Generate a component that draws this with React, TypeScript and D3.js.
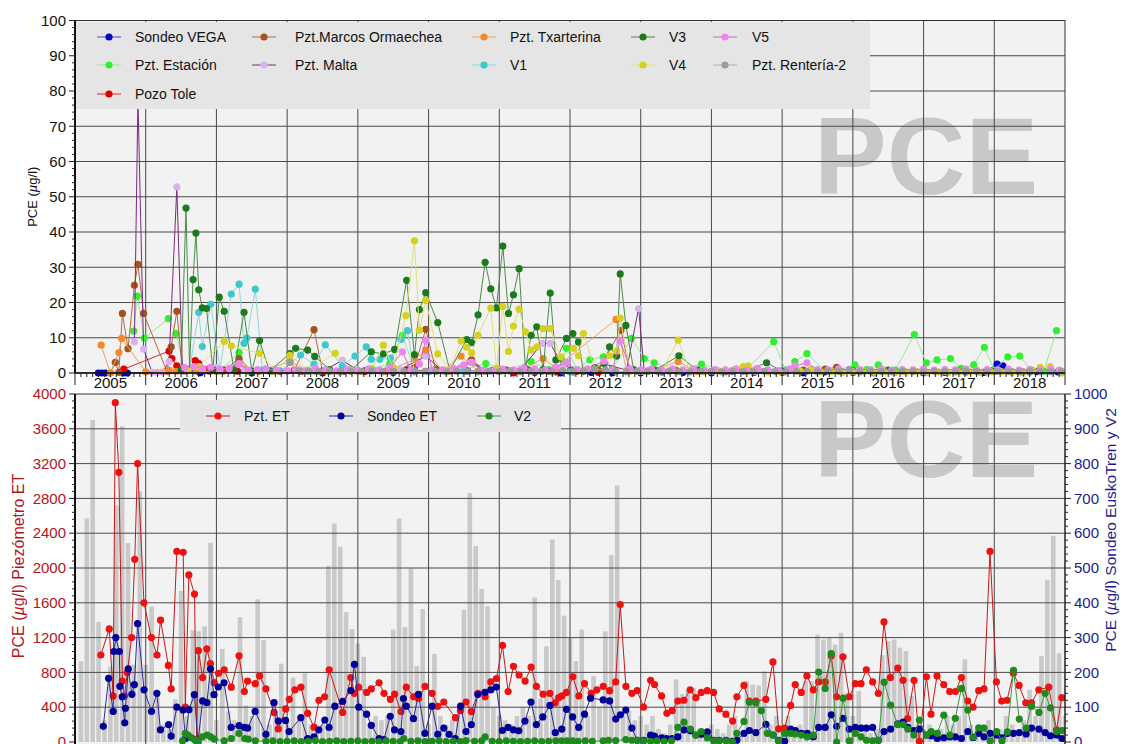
import { useRef, useEffect } from "react";
import * as d3 from "d3";

type Pt = [number, number]; // [decimal year, value]

// ---------- top panel: PCE (µg/l) ----------
const sondeoVega: Pt[] = [
  [2005.33, 0], [2005.38, 0], [2005.43, 0], [2005.69, 0], [2005.74, 0], [2006.77, 0.1], [2007.5, 0.1],
  [2008.5, 0.1], [2009.5, 0.2], [2010.55, 0.6], [2010.72, 0.6], [2010.9, 0.7], [2011.06, 0.7], [2011.2, 0.3],
  [2011.5, 0.2], [2011.87, 0], [2012.05, 0.3], [2012.3, 0.2], [2012.6, 0.1], [2013.0, 0.1], [2013.3, 0.3],
  [2013.6, 0.2], [2014.0, 0.1], [2014.3, 0.4], [2014.6, 0.2], [2015.0, 0.2], [2015.3, 0.1], [2015.6, 0.3],
  [2016.0, 0.2], [2016.3, 0.1], [2016.6, 0.3], [2017.0, 0.1], [2017.3, 0.2], [2017.6, 0.3], [2017.85, 0.2],
  [2018.04, 2.5], [2018.12, 2.0], [2018.4, 0.3], [2018.6, 0.4], [2018.79, 0.6], [2018.9, 0.3],
];
const pztEstacion: Pt[] = [
  [2005.83, 11.9], [2005.88, 21.8], [2005.98, 9.9], [2006.32, 15.4], [2006.43, 11.2], [2006.55, 0.5],
  [2006.8, 0.8], [2007.05, 0.6], [2007.32, 5.8], [2007.45, 0.5], [2007.7, 0.8], [2008.0, 0.6], [2008.4, 0.5],
  [2008.8, 0.8], [2009.2, 1.2], [2009.45, 2.5], [2009.63, 10.7], [2009.8, 1.0], [2010.1, 0.5], [2010.45, 0.8],
  [2010.81, 2.7], [2011.1, 0.8], [2011.45, 3.2], [2011.7, 1.0], [2011.88, 4.0], [2011.95, 7.0], [2012.1, 1.0],
  [2012.28, 3.7], [2012.47, 4.6], [2012.6, 1.2], [2012.87, 9.8], [2013.05, 4.1], [2013.19, 2.9], [2013.5, 0.8],
  [2013.86, 2.5], [2014.2, 0.5], [2014.5, 1.0], [2014.88, 8.9], [2015.05, 0.8], [2015.18, 3.2], [2015.35, 5.5],
  [2015.6, 0.8], [2015.8, 1.0], [2016.03, 2.3], [2016.2, 1.0], [2016.36, 2.3], [2016.6, 0.8], [2016.87, 10.9],
  [2017.04, 2.9], [2017.19, 3.7], [2017.38, 4.1], [2017.53, 1.3], [2017.71, 2.3], [2017.86, 7.3], [2018.0, 0.8],
  [2018.19, 4.6], [2018.36, 4.8], [2018.53, 0.8], [2018.7, 0.5], [2018.88, 12.0],
];
const pozoTole: Pt[] = [
  [2005.69, 1.1], [2006.33, 6.2], [2006.37, 4.1], [2006.44, 2.0], [2006.6, 0.8], [2006.7, 3.5], [2006.75, 2.7],
  [2006.9, 1.2], [2007.1, 0.8], [2007.3, 0.5], [2007.6, 0.6], [2007.9, 0.4], [2008.2, 0.5], [2008.5, 0.3],
  [2008.8, 0.6], [2009.1, 0.4], [2009.4, 0.5], [2009.7, 0.8], [2010.0, 0.5], [2010.3, 0.6], [2010.6, 3.5],
  [2010.8, 0.6], [2011.0, 0.4], [2011.2, 0], [2011.5, 0.5], [2011.8, 0.3], [2012.1, 0.5], [2012.4, 0.2],
];
const pztMarcos: Pt[] = [
  [2005.5, 0], [2005.57, 3.0], [2005.62, 0.2], [2005.67, 16.9], [2005.75, 6.9], [2005.84, 24.9], [2005.89, 30.8],
  [2005.97, 16.9], [2006.3, 0.5], [2006.36, 7.4], [2006.44, 17.5], [2006.52, 0.5], [2006.7, 0.8], [2006.9, 0.5],
  [2007.1, 0.6], [2007.32, 4.1], [2007.5, 0.5], [2007.8, 0.6], [2008.1, 0.8], [2008.38, 12.3], [2008.5, 0.6],
  [2008.8, 0.5], [2009.1, 0.7], [2009.5, 0.8], [2009.8, 1.5], [2009.96, 12.4], [2010.1, 1.0], [2010.4, 0.8],
  [2010.61, 3.7], [2010.8, 0.6], [2011.1, 0.8], [2011.4, 1.0], [2011.7, 0.5], [2012.0, 0.6], [2012.4, 0.8],
  [2012.72, 12.1], [2012.85, 0.8], [2013.1, 0.5], [2013.5, 0.6], [2014.0, 0.4], [2014.5, 0.6], [2015.0, 0.5],
  [2015.3, 0.8], [2015.61, 1.1], [2015.77, 1.6], [2016.0, 0.5],
];
const pztMalta: Pt[] = [
  [2005.84, 8.9], [2005.89, 78], [2005.97, 6.8], [2006.09, 0.2], [2006.16, 0.2], [2006.24, 0.3], [2006.33, 3.2],
  [2006.44, 52.8], [2006.52, 0.5], [2006.62, 1.2], [2006.8, 0.8], [2007.0, 1.5], [2007.2, 0.7], [2007.4, 1.0],
  [2007.6, 0.6], [2007.8, 0.9], [2008.0, 0.7], [2008.3, 0.8], [2008.55, 1.0], [2008.78, 3.6], [2009.0, 0.8],
  [2009.3, 0.6], [2009.6, 1.0], [2009.96, 4.8], [2010.2, 0.6], [2010.45, 1.5], [2010.6, 3.0], [2010.8, 0.6],
  [2011.0, 0.8], [2011.3, 1.0], [2011.61, 8.4], [2011.72, 8.4], [2011.9, 2.0], [2012.2, 0.8], [2012.5, 2.5],
  [2012.8, 0.8], [2012.97, 18.3], [2013.05, 0.5],
];
const pztTxarterina: Pt[] = [
  [2005.37, 7.9], [2005.5, 0], [2005.62, 5.8], [2005.66, 9.8], [2006.0, 0.3], [2006.33, 0.8], [2006.43, 0.5],
  [2006.7, 0.6], [2007.0, 0.4], [2007.32, 2.5], [2007.6, 0.5], [2008.04, 3.2], [2008.3, 0.6], [2008.6, 0.4],
  [2009.0, 0.5], [2009.4, 0.6], [2009.8, 3.7], [2009.96, 6.5], [2010.2, 0.8], [2010.46, 4.8], [2010.7, 0.5],
  [2011.0, 1.0], [2011.3, 0.6], [2011.62, 4.1], [2011.8, 1.5], [2012.65, 15.2], [2012.8, 0.5], [2013.1, 0.6],
  [2013.53, 3.2], [2013.8, 0.4], [2014.2, 0.3], [2014.6, 0.5], [2015.0, 0.3], [2015.5, 0.4], [2016.0, 0.3],
];
const v1: Pt[] = [
  [2006.62, 1.0], [2006.75, 17.2], [2006.8, 7.5], [2006.92, 19.5], [2007.05, 1.0], [2007.21, 22.4], [2007.32, 25.2],
  [2007.39, 8.4], [2007.43, 9.9], [2007.55, 23.8], [2007.65, 0.8], [2007.9, 0.6], [2008.19, 5.1], [2008.38, 2.5],
  [2008.54, 8.0], [2008.78, 2.0], [2008.96, 4.8], [2009.12, 7.4], [2009.19, 3.9], [2009.31, 3.9], [2009.46, 4.2],
  [2009.61, 9.5], [2009.7, 12.0], [2009.8, 0.5], [2010.0, 0.3], [2010.5, 0.5], [2011.0, 0.4], [2011.5, 0.6],
  [2012.0, 0.3],
];
const v3: Pt[] = [
  [2006.5, 0.8], [2006.57, 46.8], [2006.62, 1.0], [2006.67, 26.5], [2006.71, 39.7], [2006.75, 23.6], [2006.8, 18.5],
  [2006.86, 18.3], [2006.95, 1.0], [2007.04, 21.5], [2007.11, 17.5], [2007.25, 0.8], [2007.39, 17.2], [2007.5, 0.5],
  [2007.61, 9.2], [2007.75, 0.6], [2008.04, 5.5], [2008.12, 7.0], [2008.29, 6.5], [2008.39, 4.7], [2008.6, 1.0],
  [2008.9, 0.8], [2009.19, 6.0], [2009.36, 5.4], [2009.52, 6.7], [2009.69, 26.3], [2009.8, 5.2], [2009.87, 18.0],
  [2009.96, 22.8], [2010.13, 14.3], [2010.3, 0.8], [2010.54, 9.5], [2010.61, 8.6], [2010.7, 16.5], [2010.8, 31.4],
  [2010.88, 23.9], [2010.96, 18.5], [2011.05, 36.0], [2011.13, 16.9], [2011.2, 22.2], [2011.28, 29.6],
  [2011.37, 1.3], [2011.45, 10.7], [2011.53, 13.1], [2011.62, 1.0], [2011.72, 22.7], [2011.8, 3.7], [2011.95, 9.8],
  [2012.04, 11.2], [2012.12, 8.8], [2012.19, 0.4], [2012.35, 1.5], [2012.48, 2.7], [2012.56, 7.4], [2012.66, 4.8],
  [2012.71, 28.1], [2012.79, 13.5], [2012.9, 1.0], [2013.2, 0.8], [2013.54, 4.9], [2013.8, 0.8], [2014.2, 0.6],
  [2014.5, 0.8], [2014.78, 2.9], [2015.0, 0.5], [2015.5, 0.4], [2016.0, 0.6], [2016.5, 0.8], [2017.0, 0.3],
  [2017.5, 0.5], [2018.0, 0.4], [2018.5, 0.3],
];
const v4: Pt[] = [
  [2006.6, 0.8], [2006.75, 1.8], [2007.11, 9.0], [2007.21, 7.7], [2007.61, 5.6], [2007.85, 0.5], [2008.04, 5.0],
  [2008.3, 0.8], [2008.68, 5.6], [2008.9, 0.8], [2009.2, 1.0], [2009.36, 7.9], [2009.5, 1.5], [2009.68, 16.3],
  [2009.8, 37.5], [2009.87, 12.1], [2009.96, 20.6], [2010.13, 5.4], [2010.3, 1.0], [2010.46, 9.1], [2010.54, 7.3],
  [2010.61, 5.7], [2010.7, 10.7], [2010.88, 18.4], [2010.96, 1.3], [2011.05, 18.9], [2011.13, 6.1], [2011.2, 13.3],
  [2011.28, 18.1], [2011.37, 11.7], [2011.45, 6.5], [2011.53, 7.4], [2011.62, 12.6], [2011.72, 12.6],
  [2011.87, 4.6], [2012.05, 7.0], [2012.12, 4.9], [2012.19, 11.2], [2012.35, 1.0], [2012.56, 4.9], [2012.66, 6.2],
  [2012.71, 15.6], [2012.85, 0.5], [2013.0, 0.4], [2013.3, 0.6], [2013.53, 9.3], [2013.7, 0.5], [2013.9, 0.3],
  [2014.1, 0.6], [2014.3, 0.8], [2014.45, 1.8], [2014.52, 2.0], [2014.62, 1.0], [2014.8, 0.3], [2014.95, 0.5],
  [2015.1, 0.8], [2015.25, 0.6], [2015.4, 1.0], [2015.55, 0.3], [2015.7, 0.5], [2015.85, 0.2], [2016.0, 0.4],
  [2016.15, 0.3], [2016.3, 0.2], [2016.45, 0.3], [2016.6, 0.2], [2016.75, 0.3], [2016.9, 0.4], [2017.05, 0.2],
  [2017.2, 0.3], [2017.35, 0.2], [2017.5, 0.4], [2017.65, 0.3], [2017.8, 0.2], [2017.95, 0.3], [2018.1, 0.4],
  [2018.25, 0.2], [2018.4, 0.3], [2018.55, 0.6], [2018.65, 1.6], [2018.79, 1.8], [2018.95, 0],
];
const v5: Pt[] = [
  [2006.55, 1.5], [2006.68, 1.8], [2006.8, 1.2], [2006.92, 1.6], [2007.05, 1.0], [2007.18, 1.3], [2007.32, 2.7],
  [2007.45, 0.8], [2007.58, 1.0], [2007.7, 1.2], [2007.85, 0.8], [2008.0, 0.5], [2008.12, 1.0], [2008.25, 0.6],
  [2008.4, 1.3], [2008.55, 0.8], [2008.7, 0.6], [2008.85, 1.0], [2009.0, 0.7], [2009.15, 1.2], [2009.3, 0.9],
  [2009.45, 1.5], [2009.63, 6.0], [2009.75, 0.8], [2009.87, 2.5], [2009.96, 9.3], [2010.05, 0.8], [2010.2, 0.9],
  [2010.35, 1.3], [2010.5, 2.3], [2010.62, 3.0], [2010.75, 0.8], [2010.9, 0.6], [2011.05, 1.1], [2011.2, 0.9],
  [2011.35, 1.4], [2011.5, 1.2], [2011.65, 0.8], [2011.8, 1.7], [2011.95, 3.0], [2012.1, 1.0], [2012.25, 1.2],
  [2012.48, 3.4], [2012.6, 0.9], [2012.71, 9.1], [2012.85, 1.2], [2013.0, 0.9], [2013.15, 1.1], [2013.3, 0.8],
  [2013.45, 1.2], [2013.6, 0.9], [2013.75, 1.1], [2013.9, 0.8], [2014.05, 1.0], [2014.2, 0.9], [2014.35, 1.2],
  [2014.5, 0.8], [2014.65, 1.3], [2014.8, 0.9], [2014.95, 0.7], [2015.1, 1.1], [2015.18, 2.0], [2015.35, 2.9],
  [2015.5, 1.0], [2015.65, 0.9], [2015.8, 1.2], [2015.95, 0.8], [2016.1, 1.0], [2016.25, 0.9], [2016.4, 1.1],
  [2016.55, 0.8], [2016.7, 1.0], [2016.85, 0.9], [2017.0, 1.1], [2017.15, 0.8], [2017.3, 1.0], [2017.45, 0.9],
  [2017.6, 1.1], [2017.75, 0.8], [2017.9, 1.0], [2018.05, 0.9], [2018.2, 1.1], [2018.35, 0.8], [2018.5, 1.0],
  [2018.65, 0.9], [2018.8, 1.1], [2018.92, 0.8],
];
const pztRenteria2: Pt[] = [
  [2008.04, 3.0], [2008.17, 0.6], [2008.3, 0.5], [2008.45, 0.4], [2008.6, 0.6], [2008.75, 0.3], [2008.9, 0.5],
  [2009.05, 0.4], [2009.2, 0.6], [2009.35, 0.3], [2009.5, 0.5], [2009.65, 0.4], [2009.8, 0.3], [2009.95, 0.5],
  [2010.1, 0.4], [2010.25, 0.3], [2010.4, 0.5], [2010.55, 0.4], [2010.7, 0.3], [2010.85, 0.5], [2011.0, 0.4],
  [2011.15, 0.6], [2011.3, 0.3], [2011.45, 0.5], [2011.6, 0.4], [2011.75, 0.3], [2011.9, 0.6], [2012.05, 0.4],
  [2012.2, 0.5], [2012.35, 1.0], [2012.5, 0.8], [2012.65, 0.4], [2012.8, 0.3], [2012.95, 0.5], [2013.1, 0.4],
  [2013.25, 0.3], [2013.4, 0.5], [2013.55, 0.4], [2013.7, 0.3], [2013.85, 0.5], [2014.0, 0.4], [2014.15, 0.3],
  [2014.3, 0.5], [2014.45, 0.4], [2014.6, 0.3], [2014.75, 0.5], [2014.9, 0.4], [2015.05, 0.3], [2015.2, 0.5],
  [2015.35, 0.4], [2015.5, 0.3], [2015.65, 0.5], [2015.8, 0.4], [2015.95, 1.0], [2016.1, 0.3], [2016.25, 0.5],
  [2016.4, 0.4], [2016.55, 0.3], [2016.7, 0.5], [2016.85, 0.4], [2017.0, 0.3], [2017.15, 0.5], [2017.3, 0.4],
  [2017.45, 0.3], [2017.6, 0.5], [2017.75, 0.4], [2017.9, 0.3], [2018.05, 0.5], [2018.2, 0.4], [2018.35, 0.3],
  [2018.5, 0.5], [2018.65, 0.4], [2018.8, 0.3], [2018.95, 0.5],
];

// ---------- bottom panel ----------
// Pzt. ET, left axis (µg/l)
const pztET: Pt[] = [
  [2005.365, 1000], [2005.485, 1300], [2005.54, 530], [2005.57, 3900], [2005.62, 3100], [2005.67, 700],
  [2005.7, 530], [2005.74, 800], [2005.8, 1200], [2005.845, 2100], [2005.885, 3200], [2005.975, 1600],
  [2006.08, 1200], [2006.16, 1000], [2006.21, 1400], [2006.32, 880], [2006.36, 610], [2006.44, 2190],
  [2006.53, 2180], [2006.56, 400], [2006.61, 1920], [2006.69, 1700], [2006.72, 30], [2006.745, 1050],
  [2006.805, 740], [2006.865, 1070], [2006.915, 900], [2006.97, 680], [2007.03, 790], [2007.11, 830],
  [2007.21, 630], [2007.32, 990], [2007.395, 580], [2007.44, 700], [2007.55, 670], [2007.61, 760], [2007.7, 610],
  [2007.815, 340], [2007.875, 150], [2007.98, 380], [2008.03, 490], [2008.11, 600], [2008.195, 630],
  [2008.29, 330], [2008.38, 170], [2008.45, 480], [2008.53, 520], [2008.595, 830], [2008.785, 340],
  [2008.9, 740], [2008.95, 560], [2009.01, 630], [2009.125, 570], [2009.19, 610], [2009.3, 680], [2009.37, 560],
  [2009.46, 490], [2009.52, 550], [2009.61, 350], [2009.685, 630], [2009.79, 520], [2009.86, 500], [2009.95, 640],
  [2010.05, 560], [2010.13, 410], [2010.215, 460], [2010.38, 280], [2010.45, 360], [2010.53, 460],
  [2010.605, 350], [2010.7, 560], [2010.8, 520], [2010.88, 690], [2010.96, 730], [2011.045, 1110],
  [2011.125, 580], [2011.2, 870], [2011.28, 770], [2011.365, 700], [2011.45, 860], [2011.525, 640],
  [2011.62, 550], [2011.715, 560], [2011.79, 450], [2011.84, 510], [2011.885, 530], [2011.95, 570],
  [2012.04, 750], [2012.125, 530], [2012.205, 670], [2012.3, 560], [2012.38, 600], [2012.47, 640], [2012.56, 590],
  [2012.645, 690], [2012.71, 1580], [2012.79, 640], [2012.875, 560], [2012.95, 590], [2013.04, 400],
  [2013.14, 710], [2013.195, 660], [2013.295, 530], [2013.37, 330], [2013.445, 360], [2013.525, 470],
  [2013.61, 480], [2013.7, 600], [2013.78, 510], [2013.855, 570], [2013.94, 590], [2014.03, 570], [2014.11, 380],
  [2014.205, 320], [2014.3, 240], [2014.36, 520], [2014.46, 650], [2014.535, 470], [2014.63, 470],
  [2014.77, 490], [2014.87, 920], [2014.95, 150], [2015.035, 160], [2015.12, 420], [2015.185, 660],
  [2015.27, 570], [2015.35, 760], [2015.44, 600], [2015.515, 690], [2015.61, 690], [2015.695, 990],
  [2015.77, 520], [2015.86, 980], [2015.95, 520], [2016.035, 670], [2016.115, 670], [2016.19, 830],
  [2016.28, 690], [2016.36, 560], [2016.44, 1380], [2016.53, 740], [2016.635, 850], [2016.71, 710],
  [2016.775, 270], [2016.865, 710], [2016.94, 10], [2017.04, 750], [2017.105, 320], [2017.19, 760],
  [2017.285, 660], [2017.37, 580], [2017.45, 580], [2017.535, 740], [2017.625, 470], [2017.7, 400],
  [2017.78, 590], [2017.855, 610], [2017.94, 2190], [2018.03, 690], [2018.105, 470], [2018.18, 480],
  [2018.27, 790], [2018.35, 650], [2018.445, 450], [2018.525, 450], [2018.63, 600], [2018.77, 630],
  [2018.88, 140], [2018.955, 510],
];
// Sondeo ET, right axis (µg/l)
const sondeoET: Pt[] = [
  [2005.4, 45], [2005.475, 183], [2005.54, 88], [2005.55, 260], [2005.577, 300], [2005.627, 260], [2005.635, 160],
  [2005.667, 130], [2005.703, 55], [2005.713, 97], [2005.753, 210], [2005.804, 137], [2005.84, 165],
  [2005.885, 340], [2005.976, 150], [2006.082, 88], [2006.158, 140], [2006.208, 35], [2006.324, 50],
  [2006.36, 17], [2006.44, 100], [2006.527, 92], [2006.562, 10], [2006.612, 93], [2006.688, 136], [2006.739, 0],
  [2006.805, 118], [2006.865, 113], [2006.916, 210], [2006.966, 136], [2007.027, 158], [2007.108, 170],
  [2007.209, 42], [2007.32, 47], [2007.396, 42], [2007.441, 40], [2007.547, 88], [2007.699, 22], [2007.815, 113],
  [2007.876, 60], [2007.977, 62], [2008.027, 30], [2008.194, 70], [2008.29, 10], [2008.381, 15], [2008.447, 35],
  [2008.533, 63], [2008.593, 42], [2008.674, 103], [2008.785, 117], [2008.902, 148], [2008.952, 223],
  [2009.013, 100], [2009.124, 80], [2009.19, 48], [2009.301, 10], [2009.367, 7], [2009.458, 74], [2009.518, 35],
  [2009.609, 30], [2009.645, 125], [2009.685, 103], [2009.786, 67], [2009.857, 137], [2009.948, 25],
  [2010.049, 103], [2010.13, 22], [2010.215, 40], [2010.291, 22], [2010.377, 10], [2010.453, 103], [2010.529, 30],
  [2010.605, 50], [2010.696, 137], [2010.797, 143], [2010.882, 150], [2010.958, 158], [2011.044, 33],
  [2011.125, 42], [2011.2, 35], [2011.276, 32], [2011.363, 60], [2011.448, 115], [2011.524, 50], [2011.615, 72],
  [2011.716, 105], [2011.792, 27], [2011.884, 37], [2011.95, 94], [2012.037, 72], [2012.123, 42], [2012.205, 80],
  [2012.291, 126], [2012.469, 121], [2012.56, 118], [2012.647, 66], [2012.713, 78], [2012.789, 92],
  [2012.875, 40], [2012.951, 5], [2013.043, 5], [2013.14, 20], [2013.195, 17], [2013.297, 12], [2013.368, 10],
  [2013.444, 10], [2013.526, 15], [2013.612, 35], [2013.703, 32], [2013.78, 20], [2013.856, 22], [2013.942, 29],
  [2014.034, 5], [2014.11, 5], [2014.207, 5], [2014.298, 2], [2014.359, 5], [2014.461, 25], [2014.537, 33],
  [2014.628, 27], [2014.771, 51], [2014.872, 20], [2014.948, 5], [2015.035, 2], [2015.121, 37], [2015.187, 33],
  [2015.274, 25], [2015.355, 25], [2015.441, 15], [2015.517, 42], [2015.609, 42], [2015.695, 78], [2015.771, 45],
  [2015.863, 68], [2015.949, 37], [2016.036, 42], [2016.117, 40], [2016.193, 40], [2016.28, 42], [2016.361, 5],
  [2016.442, 30], [2016.534, 37], [2016.635, 52], [2016.712, 57], [2016.778, 42], [2016.864, 33], [2016.94, 37],
  [2017.042, 20], [2017.108, 18], [2017.194, 10], [2017.286, 12], [2017.372, 15], [2017.448, 15], [2017.535, 10],
  [2017.626, 30], [2017.702, 13], [2017.779, 25], [2017.855, 15], [2017.941, 25], [2018.033, 20], [2018.109, 12],
  [2018.185, 25], [2018.272, 25], [2018.353, 27], [2018.45, 23], [2018.526, 40], [2018.632, 37], [2018.719, 27],
  [2018.795, 18], [2018.881, 20], [2018.958, 10],
];
// V2, right axis (µg/l)
const v2: Pt[] = [
  [2006.52, 3], [2006.56, 25], [2006.6, 20], [2006.65, 12], [2006.7, 5], [2006.74, 3], [2006.8, 15], [2006.87, 20],
  [2006.92, 15], [2006.97, 8], [2007.11, 3], [2007.21, 10], [2007.32, 25], [2007.4, 10], [2007.45, 8], [2007.55, 3],
  [2007.7, 2], [2007.8, 3], [2007.9, 1], [2008.0, 2], [2008.1, 3], [2008.2, 1], [2008.3, 2], [2008.4, 4], [2008.5, 1],
  [2008.6, 2], [2008.7, 3], [2008.8, 1], [2008.9, 2], [2009.0, 3], [2009.1, 1], [2009.2, 2], [2009.3, 1], [2009.4, 3],
  [2009.5, 2], [2009.6, 1], [2009.65, 10], [2009.75, 2], [2009.85, 3], [2009.95, 1], [2010.05, 2], [2010.15, 3],
  [2010.25, 1], [2010.35, 2], [2010.45, 1], [2010.53, 4], [2010.65, 2], [2010.75, 3], [2010.8, 15], [2010.9, 2],
  [2011.0, 1], [2011.1, 3], [2011.2, 2], [2011.3, 1], [2011.4, 2], [2011.5, 3], [2011.6, 1], [2011.7, 2], [2011.8, 3],
  [2011.884, 3], [2011.96, 3], [2012.037, 3], [2012.113, 2], [2012.215, 3], [2012.316, 2], [2012.469, 3],
  [2012.545, 5], [2012.647, 4], [2012.789, 7], [2012.875, 5], [2012.951, 5], [2013.043, 3], [2013.14, 2],
  [2013.23, 3], [2013.33, 2], [2013.434, 3], [2013.526, 42], [2013.612, 57], [2013.703, 37], [2013.78, 20],
  [2013.856, 30], [2013.942, 12], [2014.034, 3], [2014.11, 3], [2014.207, 3], [2014.298, 0], [2014.359, 25],
  [2014.461, 59], [2014.537, 114], [2014.628, 112], [2014.705, 90], [2014.791, 25], [2014.872, 20], [2014.948, 3],
  [2015.035, 25], [2015.121, 25], [2015.187, 23], [2015.274, 20], [2015.355, 15], [2015.441, 20], [2015.517, 201],
  [2015.609, 154], [2015.695, 254], [2015.771, 0], [2015.863, 126], [2015.949, 3], [2016.036, 25], [2016.117, 15],
  [2016.193, 5], [2016.28, 3], [2016.361, 5], [2016.442, 172], [2016.534, 106], [2016.635, 50], [2016.712, 50],
  [2016.778, 37], [2016.864, 20], [2016.94, 63], [2017.042, 20], [2017.108, 30], [2017.194, 25], [2017.286, 77],
  [2017.372, 20], [2017.448, 68], [2017.535, 154], [2017.626, 92], [2017.702, 15], [2017.779, 41], [2017.855, 40],
  [2017.941, 3], [2018.033, 30], [2018.109, 3], [2018.185, 29], [2018.272, 206], [2018.353, 66], [2018.45, 40],
  [2018.526, 103], [2018.632, 85], [2018.719, 140], [2018.795, 98], [2018.881, 30], [2018.958, 33],
];
// monthly grey bars, Jan 2005 .. Dec 2018 (left-axis units)
const monthlyBars: number[] = [
  929, 2570, 3700, 1380, 250, 866, 2720, 3630, 2285, 888, 2880, 888,
  1558, 585, 200, 150, 491, 1737, 300, 1284, 1272, 1330, 2290, 250,
  1070, 350, 250, 1435, 420, 300, 1640, 1170, 200, 350, 900, 250,
  740, 300, 790, 200, 150, 200, 2026, 2510, 2244, 1493, 1299, 1131,
  979, 200, 300, 250, 300, 1292, 2568, 1322, 1996, 872, 1528, 200,
  1014, 300, 200, 250, 300, 1520, 2861, 2252, 1760, 1560, 400, 300,
  250, 200, 300, 400, 300, 1660, 500, 1100, 2328, 1863, 1452, 1197,
  929, 1292, 300, 758, 400, 1272, 2149, 2949, 339, 358, 250, 300,
  200, 300, 150, 100, 200, 720, 550, 600, 620, 150, 100, 200,
  150, 100, 200, 300, 100, 700, 658, 650, 810, 200, 300, 150,
  300, 150, 200, 700, 700, 1235, 1178, 1197, 1120, 1254, 567, 300,
  585, 200, 100, 150, 998, 1158, 1178, 1084, 1045, 530, 200, 150,
  200, 100, 150, 300, 200, 300, 950, 200, 150, 200, 250, 100,
  150, 300, 200, 100, 250, 600, 300, 987, 1863, 2370, 1020, 300,
];

const years = d3.range(2005, 2019);
const topTicks = d3.range(0, 101, 10);
const leftTicks = d3.range(0, 4001, 400);
const rightTicks = d3.range(0, 1001, 100);

interface Series { name: string; data: Pt[]; marker: string; line: string; }

const topSeries: Series[] = [
  { name: "Sondeo VEGA", data: sondeoVega, marker: "#0000cc", line: "#4a4ad0" },
  { name: "Pzt. Estación", data: pztEstacion, marker: "#2ef02e", line: "#9ae89a" },
  { name: "Pozo Tole", data: pozoTole, marker: "#e00000", line: "#d03030" },
  { name: "Pzt.Marcos Ormaechea", data: pztMarcos, marker: "#a4531b", line: "#b06a3a" },
  { name: "Pzt. Malta", data: pztMalta, marker: "#d8b2f0", line: "#7a2a7e" },
  { name: "Pzt. Txarterina", data: pztTxarterina, marker: "#f2892a", line: "#f0a060" },
  { name: "V1", data: v1, marker: "#3cc8cc", line: "#8ad8dc" },
  { name: "V3", data: v3, marker: "#1b7a1b", line: "#4a8a4a" },
  { name: "V4", data: v4, marker: "#d6d01e", line: "#e2de78" },
  { name: "V5", data: v5, marker: "#ee84ee", line: "#cc66cc" },
  { name: "Pzt. Rentería-2", data: pztRenteria2, marker: "#9c9c9c", line: "#b0b0b0" },
];
const topLegendCols: string[][] = [
  ["Sondeo VEGA", "Pzt. Estación", "Pozo Tole"],
  ["Pzt.Marcos Ormaechea", "Pzt. Malta"],
  ["Pzt. Txarterina", "V1"],
  ["V3", "V4"],
  ["V5", "Pzt. Rentería-2"],
];

const bottomSeries = [
  { name: "Pzt. ET", data: pztET, marker: "#ee1111", line: "#c81818", axis: "left" },
  { name: "Sondeo ET", data: sondeoET, marker: "#000099", line: "#2a2a9a", axis: "right" },
  { name: "V2", data: v2, marker: "#1e8a1e", line: "#3f9a3f", axis: "right" },
];

const FONT = "'Liberation Sans', Arial, Helvetica, sans-serif";
const RED_AXIS = "#b3151b";
const BLUE_AXIS = "#1c1c8c";

export default function App() {
  const svgRef = useRef<SVGSVGElement>(null);
  const width = 1123;
  const height = 744;

  useEffect(() => {
    if (!svgRef.current) return;
    const svg = d3.select(svgRef.current);
    svg.selectAll("*").remove();

    const xL = 75, xR = 1065;
    const tTop = 20.5, tBot = 373;
    const bTop = 394, bBot = 742;

    const x = d3.scaleLinear().domain([2005, 2019]).range([xL, xR]);
    const yTop = d3.scaleLinear().domain([0, 100]).range([tBot, tTop]);
    const yLeft = d3.scaleLinear().domain([0, 4000]).range([bBot, bTop]);
    const yRight = d3.scaleLinear().domain([0, 1000]).range([bBot, bTop]);

    const defs = svg.append("defs");
    defs.append("clipPath").attr("id", "clip-top").append("rect")
      .attr("x", xL).attr("y", tTop).attr("width", xR - xL).attr("height", tBot - tTop + 4);
    defs.append("clipPath").attr("id", "clip-bot").append("rect")
      .attr("x", xL).attr("y", bTop).attr("width", xR - xL).attr("height", bBot - bTop + 4);

    const drawSeries = (
      g: d3.Selection<SVGGElement, unknown, null, undefined>,
      data: Pt[], y: d3.ScaleLinear<number, number>, marker: string, line: string,
    ) => {
      const sorted = [...data].sort((a, b) => a[0] - b[0]);
      g.append("path").datum(sorted)
        .attr("fill", "none").attr("stroke", line).attr("stroke-width", 1)
        .attr("d", d3.line<Pt>().x((d) => x(d[0])).y((d) => y(d[1])));
      g.selectAll(null).data(sorted).enter().append("circle")
        .attr("cx", (d) => x(d[0])).attr("cy", (d) => y(d[1])).attr("r", 3.6).attr("fill", marker);
    };

    // ================= TOP PANEL =================
    svg.append("rect").attr("x", xL).attr("y", tTop).attr("width", xR - xL).attr("height", tBot - tTop)
      .attr("fill", "#f2f2f2");
    // watermark, clipped to the plot so it stays inside the panel
    svg.append("g").attr("clip-path", "url(#clip-top)").append("text")
      .attr("x", 814).attr("y", 194).attr("font-family", FONT).attr("font-size", 109).attr("font-weight", 700)
      .attr("fill", "#c8c8c8").text("PCE");

    const gridT = svg.append("g").attr("stroke", "#4a4a4a").attr("stroke-width", 1);
    gridT.selectAll(null).data(topTicks.slice(1, -1)).enter().append("line")
      .attr("x1", xL).attr("x2", xR).attr("y1", (d) => yTop(d)).attr("y2", (d) => yTop(d));
    gridT.selectAll(null).data(years.slice(1)).enter().append("line")
      .attr("x1", (d) => x(d)).attr("x2", (d) => x(d)).attr("y1", tTop).attr("y2", tBot);

    const dataT = svg.append("g").attr("clip-path", "url(#clip-top)");
    topSeries.forEach((s) => drawSeries(dataT, s.data, yTop, s.marker, s.line));

    // legend
    svg.append("rect").attr("x", xL).attr("y", 22).attr("width", 870 - xL).attr("height", 87).attr("fill", "#e5e5e5");
    const colX = [109, 264, 484, 643, 725];
    const colTextX = [135, 295, 510, 669, 752];
    const rowY = [37, 65, 94];
    topLegendCols.forEach((col, ci) => {
      col.forEach((name, ri) => {
        const s = topSeries.find((t) => t.name === name)!;
        const lg = svg.append("g");
        lg.append("line").attr("x1", colX[ci] - 12).attr("x2", colX[ci] + 12).attr("y1", rowY[ri]).attr("y2", rowY[ri])
          .attr("stroke", s.line).attr("stroke-width", 1);
        lg.append("circle").attr("cx", colX[ci]).attr("cy", rowY[ri]).attr("r", 3.6).attr("fill", s.marker);
        lg.append("text").attr("x", colTextX[ci]).attr("y", rowY[ri]).attr("dy", "0.35em")
          .attr("font-family", FONT).attr("font-size", 14).attr("fill", "#111").text(name);
      });
    });

    // frame + axes
    svg.append("rect").attr("x", xL).attr("y", tTop).attr("width", xR - xL).attr("height", tBot - tTop)
      .attr("fill", "none").attr("stroke", "#333").attr("stroke-width", 1);
    svg.append("line").attr("x1", xL).attr("x2", xL).attr("y1", tTop).attr("y2", tBot)
      .attr("stroke", "#111").attr("stroke-width", 2);
    svg.append("line").attr("x1", xL).attr("x2", xR).attr("y1", tBot).attr("y2", tBot)
      .attr("stroke", "#111").attr("stroke-width", 1.5);

    const axT = svg.append("g").attr("stroke", "#222").attr("stroke-width", 1);
    axT.selectAll(null).data(d3.range(0, 101, 2)).enter().append("line")
      .attr("x1", (d) => xL - (d % 10 === 0 ? 6 : 3)).attr("x2", xL)
      .attr("y1", (d) => yTop(d)).attr("y2", (d) => yTop(d));
    axT.selectAll(null).data(d3.range(0, 14 * 12 + 1)).enter().append("line")
      .attr("x1", (d) => x(2005 + d / 12)).attr("x2", (d) => x(2005 + d / 12))
      .attr("y1", tBot).attr("y2", (d) => tBot + (d % 12 === 0 ? 12 : 4));

    svg.append("g").selectAll(null).data(topTicks).enter().append("text")
      .attr("x", xL - 9).attr("y", (d) => yTop(d)).attr("dy", "0.35em").attr("text-anchor", "end")
      .attr("font-family", FONT).attr("font-size", 15).attr("fill", "#111").text((d) => d);
    svg.append("g").selectAll(null).data(years).enter().append("text")
      .attr("x", (d) => x(d + 0.5)).attr("y", 388).attr("text-anchor", "middle")
      .attr("font-family", FONT).attr("font-size", 15).attr("fill", "#111").text((d) => d);

    const lblT = svg.append("text").attr("transform", `translate(37,${(tTop + tBot) / 2}) rotate(-90)`)
      .attr("text-anchor", "middle").attr("font-family", FONT).attr("font-size", 13).attr("fill", "#111");
    lblT.append("tspan").text("PCE (");
    lblT.append("tspan").attr("font-style", "italic").text("µ");
    lblT.append("tspan").text("g/l)");

    // ================= BOTTOM PANEL =================
    svg.append("rect").attr("x", xL).attr("y", bTop).attr("width", xR - xL).attr("height", bBot - bTop + 4)
      .attr("fill", "#f2f2f2");
    svg.append("g").attr("clip-path", "url(#clip-bot)").append("text")
      .attr("x", 814).attr("y", 477).attr("font-family", FONT).attr("font-size", 109).attr("font-weight", 700)
      .attr("fill", "#c8c8c8").text("PCE");

    const barsG = svg.append("g").attr("clip-path", "url(#clip-bot)");
    barsG.selectAll(null).data(monthlyBars).enter().append("rect")
      .attr("x", (_, i) => x(2005 + (i + 1) / 12) - 2.3)
      .attr("width", 4.6)
      .attr("y", (d) => yLeft(d))
      .attr("height", (d) => yLeft(0) - yLeft(d))
      .attr("fill", "#c9c9c9");

    const gridB = svg.append("g").attr("stroke", "#4a4a4a").attr("stroke-width", 1);
    gridB.selectAll(null).data(leftTicks.slice(1, -1)).enter().append("line")
      .attr("x1", xL).attr("x2", xR).attr("y1", (d) => yLeft(d)).attr("y2", (d) => yLeft(d));
    gridB.selectAll(null).data(years.slice(1)).enter().append("line")
      .attr("x1", (d) => x(d)).attr("x2", (d) => x(d)).attr("y1", bTop).attr("y2", bBot + 4);

    const dataB = svg.append("g").attr("clip-path", "url(#clip-bot)");
    bottomSeries.forEach((s) => drawSeries(dataB, s.data, s.axis === "left" ? yLeft : yRight, s.marker, s.line));

    // legend
    svg.append("rect").attr("x", 180).attr("y", 400).attr("width", 381).attr("height", 32).attr("fill", "#e5e5e5");
    const bColX = [218, 341, 489];
    const bTextX = [244, 367, 514];
    bottomSeries.forEach((s, i) => {
      const lg = svg.append("g");
      lg.append("line").attr("x1", bColX[i] - 12).attr("x2", bColX[i] + 12).attr("y1", 416).attr("y2", 416)
        .attr("stroke", s.line).attr("stroke-width", 1);
      lg.append("circle").attr("cx", bColX[i]).attr("cy", 416).attr("r", 3.6).attr("fill", s.marker);
      lg.append("text").attr("x", bTextX[i]).attr("y", 416).attr("dy", "0.35em")
        .attr("font-family", FONT).attr("font-size", 14).attr("fill", "#111").text(s.name);
    });

    // frame + axes
    svg.append("line").attr("x1", xL).attr("x2", xR).attr("y1", bTop).attr("y2", bTop).attr("stroke", "#333");
    svg.append("line").attr("x1", xL).attr("x2", xL).attr("y1", bTop).attr("y2", bBot + 4)
      .attr("stroke", "#111").attr("stroke-width", 2);
    svg.append("line").attr("x1", xR).attr("x2", xR).attr("y1", bTop).attr("y2", bBot + 4)
      .attr("stroke", "#222").attr("stroke-width", 1.5);

    const axB = svg.append("g").attr("stroke", "#222").attr("stroke-width", 1);
    axB.selectAll(null).data(d3.range(0, 4001, 80)).enter().append("line")
      .attr("x1", (d) => xL - (d % 400 === 0 ? 6 : 3)).attr("x2", xL)
      .attr("y1", (d) => yLeft(d)).attr("y2", (d) => yLeft(d));
    axB.selectAll(null).data(d3.range(0, 1001, 20)).enter().append("line")
      .attr("x1", xR).attr("x2", (d) => xR + (d % 100 === 0 ? 6 : 3))
      .attr("y1", (d) => yRight(d)).attr("y2", (d) => yRight(d));

    svg.append("g").selectAll(null).data(leftTicks).enter().append("text")
      .attr("x", xL - 9).attr("y", (d) => yLeft(d)).attr("dy", "0.35em").attr("text-anchor", "end")
      .attr("font-family", FONT).attr("font-size", 15).attr("fill", RED_AXIS).text((d) => d);
    svg.append("g").selectAll(null).data(rightTicks).enter().append("text")
      .attr("x", xR + 9).attr("y", (d) => yRight(d)).attr("dy", "0.35em").attr("text-anchor", "start")
      .attr("font-family", FONT).attr("font-size", 15).attr("fill", BLUE_AXIS).text((d) => d);

    const lblL = svg.append("text").attr("transform", `translate(24,566) rotate(-90)`)
      .attr("text-anchor", "middle").attr("font-family", FONT).attr("font-size", 16).attr("fill", RED_AXIS);
    lblL.append("tspan").text("PCE (");
    lblL.append("tspan").attr("font-style", "italic").text("µ");
    lblL.append("tspan").text("g/l) Piezómetro ET");

    const lblR = svg.append("text").attr("transform", `translate(1116,530) rotate(-90)`)
      .attr("text-anchor", "middle").attr("font-family", FONT).attr("font-size", 15.5).attr("fill", BLUE_AXIS);
    lblR.append("tspan").text("PCE (");
    lblR.append("tspan").attr("font-style", "italic").text("µ");
    lblR.append("tspan").text("g/l) Sondeo EuskoTren y V2");
  }, []);

  return (
    <div style={{ position: "absolute", left: 0, top: 0, width, height, overflow: "hidden", background: "#fff" }}>
      <svg ref={svgRef} width={width} height={height} style={{ display: "block" }} />
    </div>
  );
}
